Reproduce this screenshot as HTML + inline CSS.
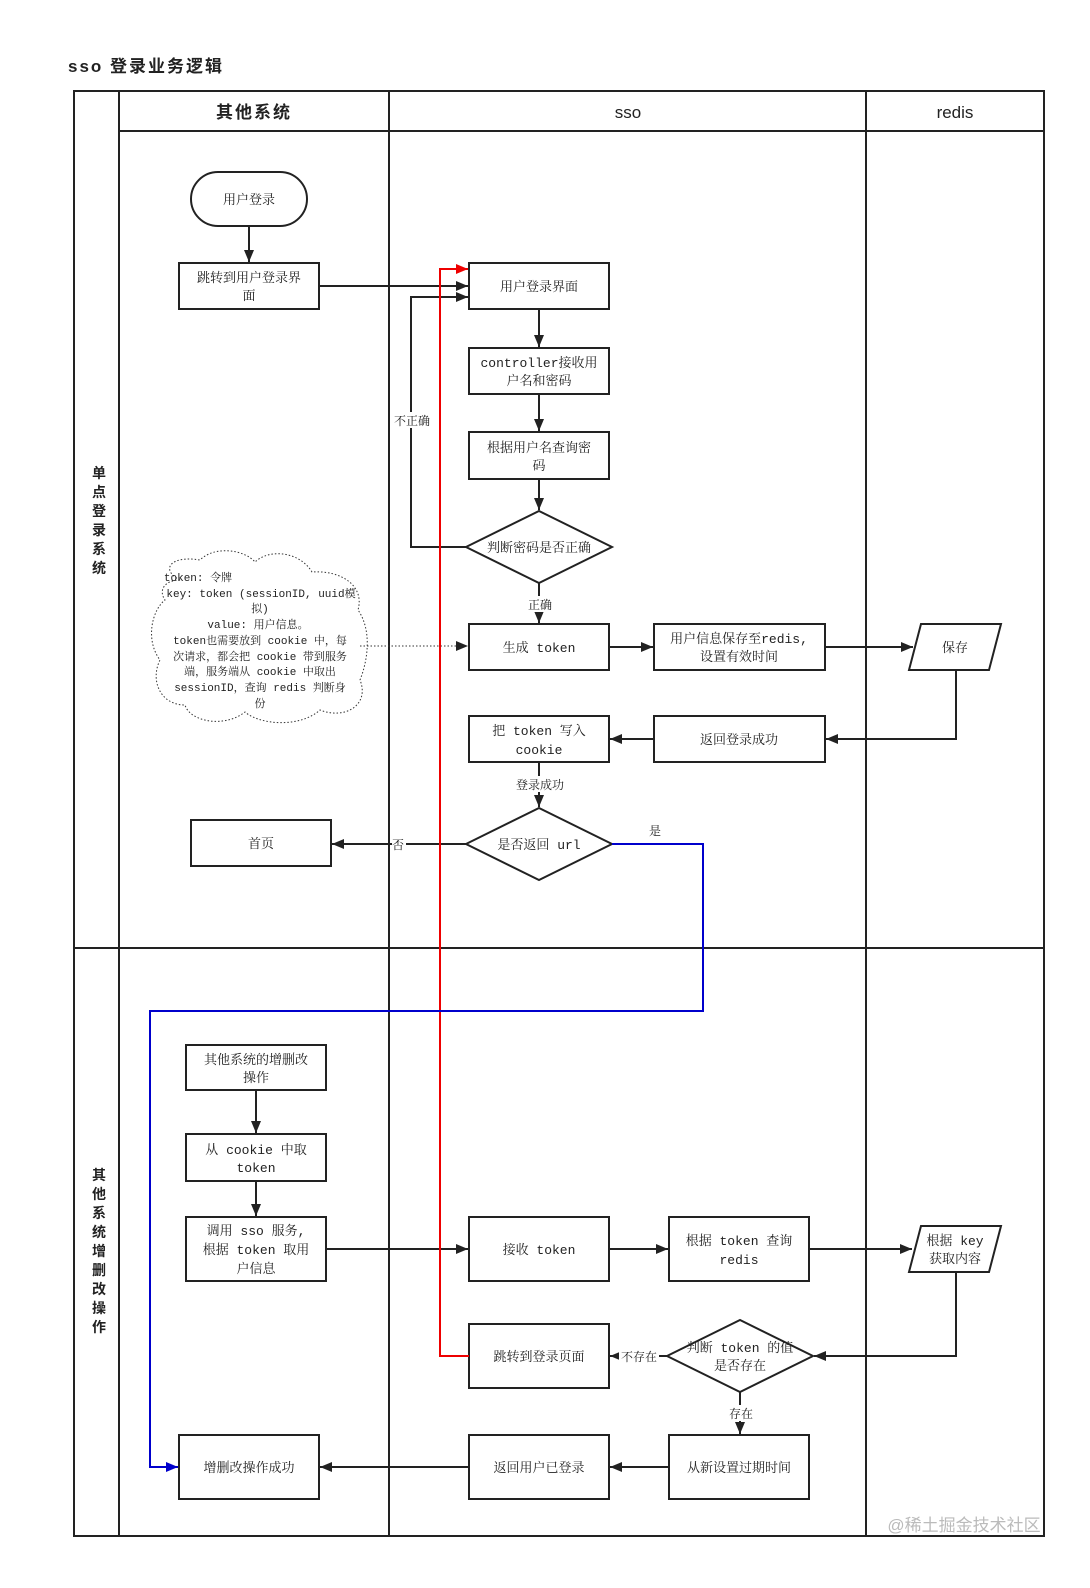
<!DOCTYPE html>
<html><head><meta charset="utf-8"><style>
html,body{margin:0;padding:0;background:#fff;overflow:hidden;width:1090px;height:1588px;}
svg{display:block;}
svg text{font-family:"Liberation Mono","Noto Serif CJK SC",monospace;font-size:13px;fill:#222;}
.b{font-family:"Liberation Sans","Noto Sans CJK SC",sans-serif;font-weight:bold;}
</style></head><body>
<svg width="1090" height="1588" viewBox="0 0 1090 1588" xmlns="http://www.w3.org/2000/svg">
<defs>
<marker id="a" markerWidth="12" markerHeight="10" refX="12" refY="5" orient="auto" markerUnits="userSpaceOnUse"><path d="M0,0L12,5L0,10z" fill="#222"/></marker>
<marker id="r" markerWidth="12" markerHeight="10" refX="12" refY="5" orient="auto" markerUnits="userSpaceOnUse"><path d="M0,0L12,5L0,10z" fill="#e00"/></marker>
<marker id="bl" markerWidth="12" markerHeight="10" refX="12" refY="5" orient="auto" markerUnits="userSpaceOnUse"><path d="M0,0L12,5L0,10z" fill="#00c"/></marker>
</defs>
<text x="68" y="72" class="b" style="font-size:17px;letter-spacing:2px">sso 登录业务逻辑</text>
<g stroke="#222" stroke-width="2" fill="none">
<rect x="74" y="91" width="970" height="1445"/>
<line x1="119" y1="91" x2="119" y2="1536"/>
<line x1="389" y1="91" x2="389" y2="1536"/>
<line x1="866" y1="91" x2="866" y2="1536"/>
<line x1="119" y1="131" x2="1044" y2="131"/>
<line x1="74" y1="948" x2="1044" y2="948"/>
</g>
<text x="254" y="118" text-anchor="middle" class="b" style="font-size:17px;letter-spacing:2px">其他系统</text>
<text x="628" y="118" text-anchor="middle" style="font-family:'Liberation Sans',sans-serif;font-size:17px">sso</text>
<text x="955" y="118" text-anchor="middle" style="font-family:'Liberation Sans',sans-serif;font-size:17px">redis</text>
<g text-anchor="middle">
<text x="99" y="478" class="b" style="font-size:14px">单</text><text x="99" y="497" class="b" style="font-size:14px">点</text><text x="99" y="516" class="b" style="font-size:14px">登</text><text x="99" y="535" class="b" style="font-size:14px">录</text><text x="99" y="554" class="b" style="font-size:14px">系</text><text x="99" y="573" class="b" style="font-size:14px">统</text>
<text x="99" y="1180" class="b" style="font-size:14px">其</text><text x="99" y="1199" class="b" style="font-size:14px">他</text><text x="99" y="1218" class="b" style="font-size:14px">系</text><text x="99" y="1237" class="b" style="font-size:14px">统</text><text x="99" y="1256" class="b" style="font-size:14px">增</text><text x="99" y="1275" class="b" style="font-size:14px">删</text><text x="99" y="1294" class="b" style="font-size:14px">改</text><text x="99" y="1313" class="b" style="font-size:14px">操</text><text x="99" y="1332" class="b" style="font-size:14px">作</text>
</g>
<g stroke="#222" stroke-width="2" fill="#fff">
<rect x="191" y="172" width="116" height="54" rx="27"/>
<rect x="179" y="263" width="140" height="46"/>
<rect x="469" y="263" width="140" height="46"/>
<rect x="469" y="348" width="140" height="46"/>
<rect x="469" y="432" width="140" height="47"/>
<polygon points="466,547 539,511 612,547 539,583"/>
<rect x="469" y="624" width="140" height="46"/>
<rect x="654" y="624" width="171" height="46"/>
<polygon points="921,624 1001,624 989,670 909,670"/>
<rect x="469" y="716" width="140" height="46"/>
<rect x="654" y="716" width="171" height="46"/>
<polygon points="466,844 539,808 612,844 539,880"/>
<rect x="191" y="820" width="140" height="46"/>
<rect x="186" y="1045" width="140" height="45"/>
<rect x="186" y="1134" width="140" height="47"/>
<rect x="186" y="1217" width="140" height="64"/>
<rect x="469" y="1217" width="140" height="64"/>
<rect x="669" y="1217" width="140" height="64"/>
<polygon points="921,1226 1001,1226 989,1272 909,1272"/>
<rect x="469" y="1324" width="140" height="64"/>
<polygon points="667,1356 740,1320 813,1356 740,1392"/>
<rect x="179" y="1435" width="140" height="64"/>
<rect x="469" y="1435" width="140" height="64"/>
<rect x="669" y="1435" width="140" height="64"/>
</g>
<g text-anchor="middle">
<text x="249" y="204">用户登录</text>
<text x="249" y="282">跳转到用户登录界</text><text x="249" y="300">面</text>
<text x="539" y="291">用户登录界面</text>
<text x="539" y="367">controller接收用</text><text x="539" y="385">户名和密码</text>
<text x="539" y="452">根据用户名查询密</text><text x="539" y="470">码</text>
<text x="539" y="552">判断密码是否正确</text>
<text x="539" y="652">生成 token</text>
<text x="739" y="643">用户信息保存至redis,</text><text x="739" y="661">设置有效时间</text>
<text x="955" y="652">保存</text>
<text x="539" y="735">把 token 写入</text><text x="539" y="754">cookie</text>
<text x="739" y="744">返回登录成功</text>
<text x="539" y="849">是否返回 url</text>
<text x="261" y="848">首页</text>
<text x="256" y="1064">其他系统的增删改</text><text x="256" y="1082">操作</text>
<text x="256" y="1154">从 cookie 中取</text><text x="256" y="1172">token</text>
<text x="256" y="1235">调用 sso 服务,</text><text x="256" y="1254">根据 token 取用</text><text x="256" y="1273">户信息</text>
<text x="539" y="1254">接收 token</text>
<text x="739" y="1245">根据 token 查询</text><text x="739" y="1264">redis</text>
<text x="955" y="1245">根据 key</text><text x="955" y="1263">获取内容</text>
<text x="539" y="1361">跳转到登录页面</text>
<text x="740" y="1352">判断 token 的值</text><text x="740" y="1370">是否存在</text>
<text x="249" y="1472">增删改操作成功</text>
<text x="539" y="1472">返回用户已登录</text>
<text x="739" y="1472">从新设置过期时间</text>
</g>
<path d="M180,580 C160,570 170,555 200,560 C215,545 245,550 255,562 C270,548 300,552 312,572 C340,570 365,585 358,610 C372,630 368,660 360,680 C370,705 345,720 320,710 C300,728 260,725 245,712 C225,728 190,722 185,705 C160,705 150,680 160,660 C145,640 152,610 165,600 C158,590 165,580 180,580 Z" fill="#fff" stroke="#333" stroke-width="1" stroke-dasharray="1.5,2"/>
<g text-anchor="middle">
<text x="198" y="581" style="font-size:11px">token: 令牌</text>
<text x="261" y="597" style="font-size:11px">key: token (sessionID, uuid模</text>
<text x="260" y="612" style="font-size:11px">拟)</text>
<text x="258" y="628" style="font-size:11px">value: 用户信息。</text>
<text x="260" y="644" style="font-size:11px">token也需要放到 cookie 中，每</text>
<text x="260" y="660" style="font-size:11px">次请求，都会把 cookie 带到服务</text>
<text x="260" y="675" style="font-size:11px">端，服务端从 cookie 中取出</text>
<text x="260" y="691" style="font-size:11px">sessionID，查询 redis 判断身</text>
<text x="260" y="707" style="font-size:11px">份</text>
</g>
<g stroke="#222" stroke-width="2" fill="none" marker-end="url(#a)">
<line x1="249" y1="226" x2="249" y2="262"/>
<line x1="319" y1="286" x2="468" y2="286"/>
<polyline points="466,547 411,547 411,297 468,297"/>
<line x1="539" y1="309" x2="539" y2="347"/>
<line x1="539" y1="394" x2="539" y2="431"/>
<line x1="539" y1="479" x2="539" y2="510"/>
<line x1="539" y1="583" x2="539" y2="623"/>
<line x1="609" y1="647" x2="653" y2="647"/>
<line x1="825" y1="647" x2="913" y2="647"/>
<polyline points="956,670 956,739 826,739"/>
<line x1="654" y1="739" x2="610" y2="739"/>
<line x1="539" y1="762" x2="539" y2="807"/>
<line x1="466" y1="844" x2="332" y2="844"/>
<line x1="256" y1="1090" x2="256" y2="1133"/>
<line x1="256" y1="1181" x2="256" y2="1216"/>
<line x1="326" y1="1249" x2="468" y2="1249"/>
<line x1="609" y1="1249" x2="668" y2="1249"/>
<line x1="809" y1="1249" x2="912" y2="1249"/>
<polyline points="956,1272 956,1356 814,1356"/>
<line x1="667" y1="1356" x2="610" y2="1356"/>
<line x1="740" y1="1392" x2="740" y2="1434"/>
<line x1="669" y1="1467" x2="610" y2="1467"/>
<line x1="469" y1="1467" x2="320" y2="1467"/>
</g>
<line x1="360" y1="646" x2="468" y2="646" stroke="#333" stroke-width="1" stroke-dasharray="1.5,2" marker-end="url(#a)"/>
<polyline points="469,1356 440,1356 440,269 468,269" stroke="#e00" stroke-width="2" fill="none" marker-end="url(#r)"/>
<polyline points="612,844 703,844 703,1011 150,1011 150,1467 178,1467" stroke="#00c" stroke-width="2" fill="none" marker-end="url(#bl)"/>
<g text-anchor="middle" style="font-family:'Liberation Sans','Noto Sans CJK SC',sans-serif">
<rect x="394" y="412" width="36" height="16" fill="#fff"/><text x="412" y="425" style="font-size:12px">不正确</text>
<rect x="527" y="596" width="26" height="16" fill="#fff"/><text x="540" y="609" style="font-size:12px">正确</text>
<rect x="514" y="776" width="52" height="16" fill="#fff"/><text x="540" y="789" style="font-size:12px">登录成功</text>
<rect x="392" y="836" width="14" height="16" fill="#fff"/><text x="398" y="849" style="font-size:12px">否</text>
<text x="655" y="835" style="font-size:12px">是</text>
<rect x="619" y="1348" width="40" height="16" fill="#fff"/><text x="639" y="1361" style="font-size:12px">不存在</text>
<rect x="728" y="1405" width="26" height="16" fill="#fff"/><text x="741" y="1418" style="font-size:12px">存在</text>
</g>
<text x="964" y="1531" text-anchor="middle" style="font-family:'Liberation Sans','Noto Sans CJK SC',sans-serif;font-size:17px;fill:#bbb">@稀土掘金技术社区</text>
</svg>
</body></html>
